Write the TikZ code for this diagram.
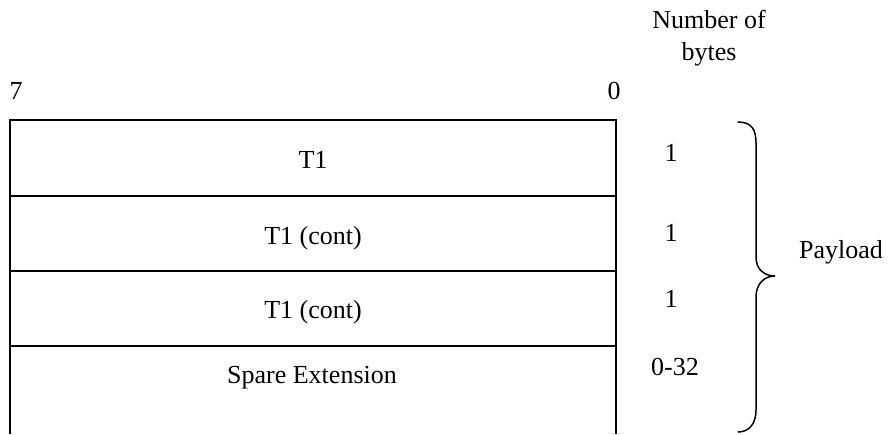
\documentclass[tikz,border=0pt]{standalone}
\usepackage{fontspec}
\setmainfont{Liberation Serif}
\begin{document}
\begin{tikzpicture}[x=1pt,y=-1pt,
  lbl/.style={anchor=base,inner sep=0pt,font=\fontsize{26}{32}\selectfont},
  frame/.style={line width=2pt},
  bracestyle/.style={line width=1.5pt,line cap=round}]
\useasboundingbox (0,0) rectangle (888,434);
% frame
\draw[frame] (10,434) -- (10,120) -- (616,120) -- (616,434);
\draw[frame] (10,196) -- (616,196);
\draw[frame] (10,271) -- (616,271);
\draw[frame] (10,346) -- (616,346);
% labels
\node[lbl] (b7) at (16,99) {7};
\node[lbl] (b0) at (614,99) {0};
\node[lbl,align=center] (nb) at (709,60) {Number of\\bytes};
\node[lbl] (t1) at (313,168) {T1};
\node[lbl] (t2) at (313,244) {T1 (cont)};
\node[lbl] (t3) at (313,318) {T1 (cont)};
\node[lbl] (sp) at (312,383) {Spare Extension};
\node[lbl] (n1) at (671,161) {1};
\node[lbl] (n2) at (671,241) {1};
\node[lbl] (n3) at (671,307) {1};
\node[lbl] (n4) at (675,375) {0-32};
\node[lbl,anchor=base west] (pl) at (799,258) {Payload};
% brace
\draw[bracestyle] (738,122) .. controls (752,122) and (756,130) .. (756,143)
  -- (756,257) .. controls (756,270) and (765,276) .. (775,276)
  .. controls (765,276) and (756,283) .. (756,297)
  -- (756,410) .. controls (756,425) and (748,432) .. (738,432);
\end{tikzpicture}
\end{document}
